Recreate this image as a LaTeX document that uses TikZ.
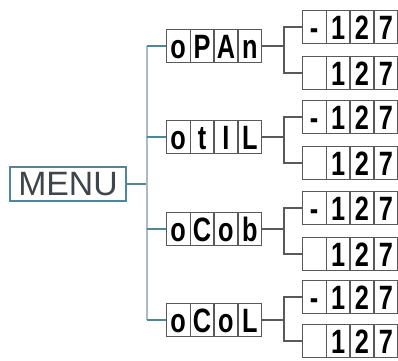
\documentclass[tikz,border=0pt]{standalone}
\usepackage{fontspec}
\setmainfont{Liberation Sans}
\usetikzlibrary{shapes.multipart}

\definecolor{teal1}{HTML}{4F8797}
\definecolor{trunkc}{HTML}{A9BCC3}
\definecolor{menutxt}{HTML}{3E454B}

\newlength{\cellw}
\setlength{\cellw}{0.57cm}
\newcommand{\seg}[1]{\rule[-0.11cm]{0pt}{0.83cm}\makebox[\cellw][c]{\scalebox{0.75}[1]{#1}}}
\newcommand{\lcd}[4]{\seg{#1}\nodepart{two}\seg{#2}\nodepart{three}\seg{#3}\nodepart{four}\seg{#4}}

\begin{document}
\begin{tikzpicture}[x=0.025cm, y=-0.025cm, thick,
    menu/.style = {draw=teal1, line width=1pt, inner sep=0pt, minimum width=2.9cm,
        minimum height=0.85cm, text=menutxt, font=\fontsize{24}{24}\selectfont},
    lcd/.style = {draw=black!65, line width=0.8pt, rectangle split, rectangle split horizontal,
        rectangle split parts=4, inner sep=0pt,
        font=\fontsize{24}{24}\selectfont\bfseries},
    trunk/.style = {draw=trunkc, line width=1pt},
    branch/.style = {draw=teal1, line width=1pt},
    fork/.style = {draw=black!65, line width=0.9pt}]
    \useasboundingbox (0,0) rectangle (398,360);

    \node[menu] (menu) at (68,184) {MENU};

    \node[lcd] (m1) at (214,46) {\lcd{o}{P}{A}{n}};
    \node[lcd] (m2) at (214,137) {\lcd{o}{t}{\hfill I}{L}};
    \node[lcd] (m3) at (214,229) {\lcd{o}{C}{o}{b}};
    \node[lcd] (m4) at (214,320) {\lcd{o}{C}{o}{L}};

    \node[lcd] (s1a) at (350,27) {\lcd{-}{\hfill 1}{2}{7}};
    \node[lcd] (s1b) at (350,73) {\lcd{}{\hfill 1}{2}{7}};
    \node[lcd] (s2a) at (350,117) {\lcd{-}{\hfill 1}{2}{7}};
    \node[lcd] (s2b) at (350,163) {\lcd{}{\hfill 1}{2}{7}};
    \node[lcd] (s3a) at (350,208) {\lcd{-}{\hfill 1}{2}{7}};
    \node[lcd] (s3b) at (350,254) {\lcd{}{\hfill 1}{2}{7}};
    \node[lcd] (s4a) at (350,297) {\lcd{-}{\hfill 1}{2}{7}};
    \node[lcd] (s4b) at (350,341) {\lcd{}{\hfill 1}{2}{7}};

    \coordinate (t1) at (147,46);
    \coordinate (t4) at (147,320);

% menu tree
\draw[branch] (menu.east) -- (147,184);
\draw[trunk] (t1) -- (t4);
\draw[branch] (t1) -- (m1.west);
\draw[branch] (147,137) -- (m2.west);
\draw[branch] (147,229) -- (m3.west);
\draw[branch] (t4) -- (m4.west);

% value forks
\draw[fork] (m1.east) -- ++(22,0) coordinate (f1) |- (s1a.west);
\draw[fork] (f1) |- (s1b.west);
\draw[fork] (m2.east) -- ++(22,0) coordinate (f2) |- (s2a.west);
\draw[fork] (f2) |- (s2b.west);
\draw[fork] (m3.east) -- ++(22,0) coordinate (f3) |- (s3a.west);
\draw[fork] (f3) |- (s3b.west);
\draw[fork] (m4.east) -- ++(22,0) coordinate (f4) |- (s4a.west);
\draw[fork] (f4) |- (s4b.west);
\end{tikzpicture}
\end{document}
